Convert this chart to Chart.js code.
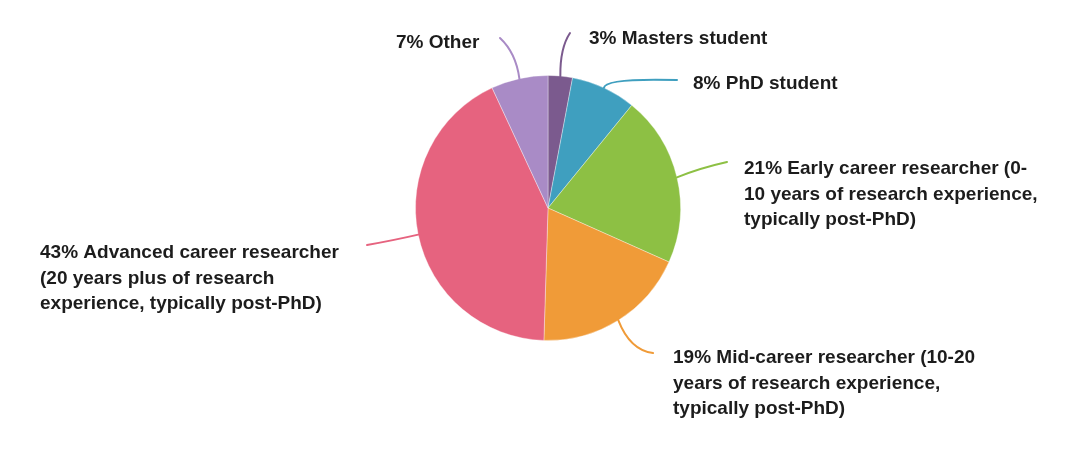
<!DOCTYPE html>
<html>
<head>
<meta charset="utf-8">
<script src="https://cdn.jsdelivr.net/npm/chart.js@4"></script>
<style>
  html, body { margin: 0; padding: 0; background: #fff; }
  #wrap { width: 1082px; height: 460px; }
</style>
</head>
<body>
<div id="wrap"><canvas id="pieChart"></canvas></div>
<script>
const categories = ['Masters student', 'PhD student', 'Early career researcher', 'Mid-career researcher', 'Advanced career researcher', 'Other'];
const shares = [3, 8, 21, 19, 43, 7];
const sliceColors = ['#7b5a8e', '#3f9fbf', '#8dc044', '#f09b38', '#e6637f', '#a98bc6'];
const labelLines = [
    ['3% Masters student'],
    ['8% PhD student'],
    ['21% Early career researcher (0-', '10 years of research experience,', 'typically post-PhD)'],
    ['19% Mid-career researcher (10-20', 'years of research experience,', 'typically post-PhD)'],
    ['43% Advanced career researcher', '(20 years plus of research', 'experience, typically post-PhD)'],
    ['7% Other']
];

// leader line control/end and label anchor, as offsets from the pie centre
const calloutLayout = [
    { c: [12, -160], e: [22, -175], t: [41, -169] },
    { c: [57, -130], e: [129, -128], t: [145, -124] },
    { c: [152, -40], e: [179, -46], t: [196, -39] },
    { c: [82, 142], e: [105, 145], t: [125, 150] },
    { c: [-153, 32], e: [-181, 37], t: [-508, 45] },
    { c: [-32, -155], e: [-48, -170], t: [-152, -165] }
];

const calloutPlugin = {
    id: 'callouts',
    afterDatasetsDraw(chart) {
        const ctx = chart.ctx;
        const arcs = chart.getDatasetMeta(0).data;
        arcs.forEach((arc, i) => {
            const cx = arc.x, cy = arc.y;
            const mid = (arc.startAngle + arc.endAngle) / 2;
            const sx = cx + Math.cos(mid) * arc.outerRadius;
            const sy = cy + Math.sin(mid) * arc.outerRadius;
            const lay = calloutLayout[i];
            ctx.save();
            ctx.strokeStyle = sliceColors[i];
            ctx.lineWidth = 2;
            ctx.lineCap = 'round';
            ctx.beginPath();
            ctx.moveTo(sx, sy);
            ctx.quadraticCurveTo(cx + lay.c[0], cy + lay.c[1], cx + lay.e[0], cy + lay.e[1]);
            ctx.stroke();

            ctx.fillStyle = '#1c1c1c';
            ctx.font = 'bold 19px "Liberation Sans", Arial, sans-serif';
            ctx.textBaseline = 'middle';
            ctx.textAlign = 'left';
            labelLines[i].forEach((line, k) => {
                ctx.fillText(line, cx + lay.t[0], cy + lay.t[1] + k * 25.5);
            });
            ctx.restore();
        });
    }
};

const pieData = {
    labels: categories,
    datasets: [{
        data: shares,
        backgroundColor: sliceColors,
        borderColor: 'rgba(255,255,255,0.35)',
        borderWidth: 1
    }]
};

const pieOptions = {
    responsive: true,
    maintainAspectRatio: false,
    animation: false,
    layout: {
        padding: { left: 415, right: 401, top: 75, bottom: 119 }
    },
    plugins: {
        legend: { display: false },
        tooltip: { enabled: false }
    }
};

let pieChart = new Chart(document.getElementById('pieChart'), {
    type: 'pie',
    data: pieData,
    options: pieOptions,
    plugins: [calloutPlugin]
});
</script>
</body>
</html>
